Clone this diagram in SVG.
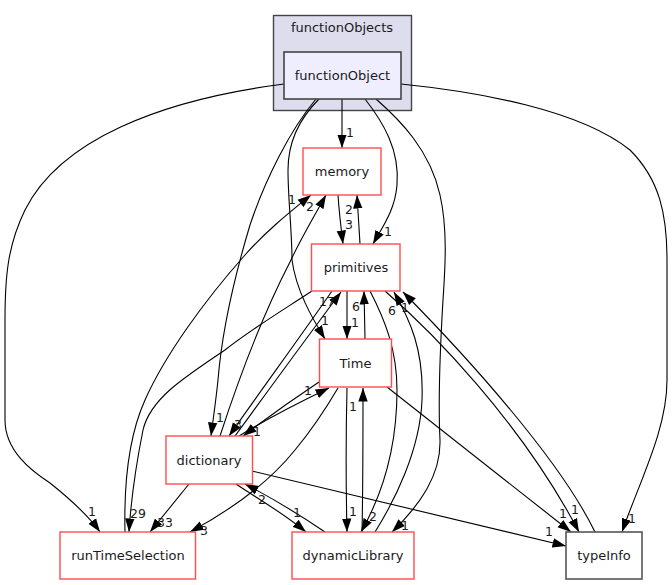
<svg xmlns="http://www.w3.org/2000/svg" width="672" height="585" viewBox="0 0 672 585">
<defs>
<marker id="ah" markerUnits="userSpaceOnUse" markerWidth="14" markerHeight="10" viewBox="0 0 14 10" refX="13.5" refY="5" orient="auto"><path d="M0,0.3 L13.5,5 L0,9.7 z" fill="#000"/></marker>
</defs>
<style>
text{font-family:"DejaVu Sans",sans-serif;font-size:13px;fill:#1a1a1a;text-anchor:middle}
#edge_labels text{font-size:12.5px}
#edges path{fill:none;stroke:#000;stroke-width:1.1;marker-end:url(#ah)}
.n rect{fill:#fff;stroke:#ff4d4d;stroke-width:1.4}
.g rect{fill:#fff;stroke:#555;stroke-width:1.6}
.cl{fill:#ddddee;stroke:#444;stroke-width:1.4}
.cur rect{fill:#eeeeff;stroke:#444;stroke-width:1.6}
</style>
<rect width="672" height="585" fill="#fff"/>
<g id="cluster_functionObjects">
<rect class="cl" x="273.5" y="15.5" width="138" height="95"/>
<text x="342" y="32">functionObjects</text>
</g>
<g id="edges">
<path d="M342,99 L342,148"/>
<path d="M365,99 C383,122 400,150 397,185 C395,210 383,226 373,244"/>
<path d="M319,99 C300,118 288,140 288,170 C288,200 292,230 292,260 C296,290 312,318 325,339"/>
<path d="M316,99 C290,130 265,180 250,225 C235,275 222,330 218,380 C216,400 213,420 211,436"/>
<path d="M376,99 C400,120 430,150 440,195 C448,230 445,270 443,300 C440,350 438,400 440,440 C441,475 420,505 392,532"/>
<path d="M284,84 C160,100 60,140 25,210 C8,245 5,275 5,320 L5,420 C5,450 30,470 50,483 C70,499 88,515 100,532"/>
<path d="M401,84 C480,92 580,110 630,150 C660,180 667,215 667,260 L667,380 C667,430 640,480 622,532"/>
<path d="M338,195 C339,210 341,228 343,244"/>
<path d="M360,244 C359,228 358,212 357,195"/>
<path d="M125,532 C124,490 127,440 145,400 C165,355 205,300 245,255 C265,232 290,212 311,195"/>
<path d="M220,436 C235,390 260,320 290,262 C300,240 312,220 326,195"/>
<path d="M235,436 C265,395 305,340 341,292"/>
<path d="M332,291 C305,330 265,385 229,436"/>
<path d="M319,382 C295,398 268,417 243,436"/>
<path d="M239,436 C265,420 300,402 329,388"/>
<path d="M347,291 L347,339"/>
<path d="M365,339 L364,291"/>
<path d="M312,291 C280,312 250,330 225,350 C180,380 150,400 143,430 C137,460 131,500 129,532"/>
<path d="M189,484 L150,532"/>
<path d="M338,388 C325,410 310,432 295,450 C275,475 240,505 190,532"/>
<path d="M347,388 C346,430 346,490 347,532"/>
<path d="M362,532 C363,490 363,430 363,388"/>
<path d="M370,291 C385,320 397,350 397,390 C397,440 385,490 361,532"/>
<path d="M375,532 C395,500 420,450 422,400 C424,350 410,320 394,292"/>
<path d="M325,532 C300,515 272,498 245,484"/>
<path d="M236,484 C255,497 282,512 306,532"/>
<path d="M252,471 L566,546"/>
<path d="M387,387 L571,532"/>
<path d="M385,291 C430,330 520,420 579,532"/>
<path d="M595,532 C560,460 470,360 403,292"/>
</g>
<g id="edge_labels">
<text x="350" y="137">1</text>
<text x="388" y="236">1</text>
<text x="325" y="325">1</text>
<text x="220" y="422">1</text>
<text x="405" y="530">1</text>
<text x="92" y="516">1</text>
<text x="632" y="523">1</text>
<text x="349" y="229">3</text>
<text x="349" y="214">2</text>
<text x="292" y="204">1</text>
<text x="310" y="211">2</text>
<text x="327" y="306">17</text>
<text x="238" y="429">3</text>
<text x="257" y="436">1</text>
<text x="308" y="395">1</text>
<text x="355" y="327">1</text>
<text x="356" y="311">6</text>
<text x="138" y="518">29</text>
<text x="165" y="527">33</text>
<text x="204" y="535">3</text>
<text x="353" y="516">1</text>
<text x="353" y="411">1</text>
<text x="373" y="521">2</text>
<text x="392" y="315">6</text>
<text x="262" y="504">2</text>
<text x="297" y="517">1</text>
<text x="549" y="536">1</text>
<text x="563" y="518">1</text>
<text x="575" y="514">1</text>
<text x="405" y="312">1</text>
</g>
<g id="functionObject" class="cur"><rect x="284" y="52" width="117" height="47"/><text x="342.5" y="80">functionObject</text></g>
<g id="memory" class="n"><rect x="303" y="148" width="78" height="47"/><text x="342" y="176">memory</text></g>
<g id="primitives" class="n"><rect x="311.5" y="244" width="88.5" height="47"/><text x="356" y="272">primitives</text></g>
<g id="Time" class="n"><rect x="319.5" y="339" width="72" height="48"/><text x="355.5" y="367.5">Time</text></g>
<g id="dictionary" class="n"><rect x="166" y="436" width="86.5" height="48"/><text x="209" y="464.5">dictionary</text></g>
<g id="runTimeSelection" class="n"><rect x="60" y="532" width="135.5" height="47"/><text x="128" y="560">runTimeSelection</text></g>
<g id="dynamicLibrary" class="n"><rect x="292" y="532" width="122" height="47"/><text x="353" y="560">dynamicLibrary</text></g>
<g id="typeInfo" class="g"><rect x="566" y="532" width="76" height="47"/><text x="604" y="560">typeInfo</text></g>
</svg>
